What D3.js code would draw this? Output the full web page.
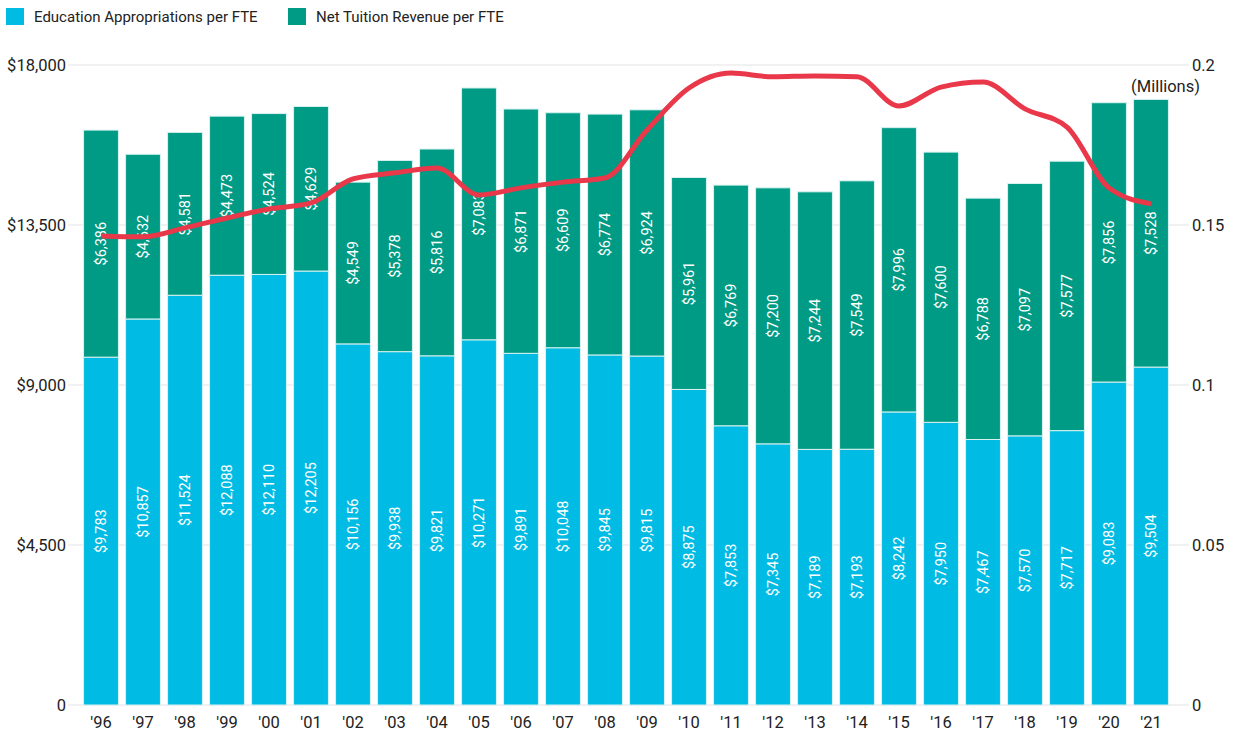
<!DOCTYPE html>
<html><head><meta charset="utf-8">
<script src="https://cdn.jsdelivr.net/npm/d3@7"></script>
<style>body{margin:0;background:#fff;font-family:Roboto,"Noto Sans",sans-serif;}</style>
</head><body><svg id="c" width="1237" height="736"></svg>
<script>
const years = ["'96","'97","'98","'99","'00","'01","'02","'03","'04","'05","'06","'07","'08","'09","'10","'11","'12","'13","'14","'15","'16","'17","'18","'19","'20","'21"];
const eduApprop = [9783,10857,11524,12088,12110,12205,10156,9938,9821,10271,9891,10048,9845,9815,8875,7853,7345,7189,7193,8242,7950,7467,7570,7717,9083,9504];
const netTuition = [6386,4632,4581,4473,4524,4629,4549,5378,5816,7083,6871,6609,6774,6924,5961,6769,7200,7244,7549,7996,7600,6788,7097,7577,7856,7528];
const fteMillions = [0.1466,0.1463,0.1491,0.1522,0.1550,0.1569,0.1644,0.1663,0.1678,0.1594,0.1616,0.1634,0.1647,0.1797,0.1928,0.1975,0.1963,0.1966,0.1963,0.1872,0.1931,0.1947,0.1863,0.1806,0.1616,0.1566];
const leftTicks = [0,4500,9000,13500,18000];
const rightTicks = [0,0.05,0.1,0.15,0.2];
const seriesNames = ["Education Appropriations per FTE","Net Tuition Revenue per FTE"];
const colors = ["#00BBE3","#009B84"];
const lineColor = "#E8384A";

const svg = d3.select("#c");
const x = d3.scaleBand().domain(years).range([80,1172]).paddingInner(0.17).paddingOuter(0.085);
const y = d3.scaleLinear().domain([0,18000]).range([705,65]);
const y2 = d3.scaleLinear().domain([0,0.2]).range([705,65]);
const fmt = d3.format("$,");
const axFont = 16.5;

// grid
svg.append("g").selectAll("line").data(leftTicks).join("line")
  .attr("x1",68).attr("x2",1189).attr("y1",d=>y(d)).attr("y2",d=>y(d))
  .attr("stroke","#e3e3e3").attr("stroke-width",1);

// left axis labels
svg.append("g").selectAll("text").data(leftTicks).join("text")
  .attr("x",66).attr("y",d=>y(d)).attr("dy","0.35em").attr("text-anchor","end")
  .attr("font-size",axFont).attr("fill","#222").text(d=>d===0?"0":fmt(d));
// right axis labels
svg.append("g").selectAll("text").data(rightTicks).join("text")
  .attr("x",1192).attr("y",d=>y2(d)).attr("dy","0.35em").attr("text-anchor","start")
  .attr("font-size",axFont).attr("fill","#222").text(d=>d===0?"0":String(d));
svg.append("text").attr("x",1200).attr("y",86).attr("dy","0.35em").attr("text-anchor","end")
  .attr("font-size",axFont).attr("fill","#222").text("(Millions)");

// stacked bars
const data = years.map((yr,i)=>({yr, edu:eduApprop[i], net:netTuition[i]}));
const stack = d3.stack().keys(["edu","net"])(data);
stack.forEach((layer,li)=>{
  const g = svg.append("g");
  g.selectAll("rect").data(layer).join("rect")
    .attr("x",d=>x(d.data.yr)).attr("width",x.bandwidth())
    .attr("y",d=>y(d[1])).attr("height",d=>y(d[0])-y(d[1]))
    .attr("fill",colors[li]).attr("stroke","#d8f2f0").attr("stroke-width",1);
  g.selectAll("text").data(layer).join("text")
    .attr("transform",d=>`translate(${x(d.data.yr)+x.bandwidth()/2},${(y(d[0])+y(d[1]))/2}) rotate(-90)`)
    .attr("text-anchor","middle").attr("dy","0.35em").attr("font-size",14.5).attr("fill","#fff")
    .text(d=>fmt(d[1]-d[0]));
});

// line
const line = d3.line().x((d,i)=>x(years[i])+x.bandwidth()/2).y(d=>y2(d)).curve(d3.curveMonotoneX);
svg.append("path").datum(fteMillions).attr("d",line).attr("fill","none")
  .attr("stroke",lineColor).attr("stroke-width",5).attr("stroke-linecap","butt");

// x labels
svg.append("g").selectAll("text").data(years).join("text")
  .attr("x",d=>x(d)+x.bandwidth()/2).attr("y",722).attr("dy","0.35em").attr("text-anchor","middle")
  .attr("font-size",axFont).attr("fill","#222").text(d=>d);

// legend
const lg = svg.append("g");
const lx = [6,288];
seriesNames.forEach((n,i)=>{
  lg.append("rect").attr("x",lx[i]).attr("y",8).attr("width",18).attr("height",17).attr("fill",colors[i]);
  lg.append("text").attr("x",lx[i]+28).attr("y",17).attr("dy","0.35em").attr("font-size",15).attr("fill","#222").text(n);
});
</script></body></html>
